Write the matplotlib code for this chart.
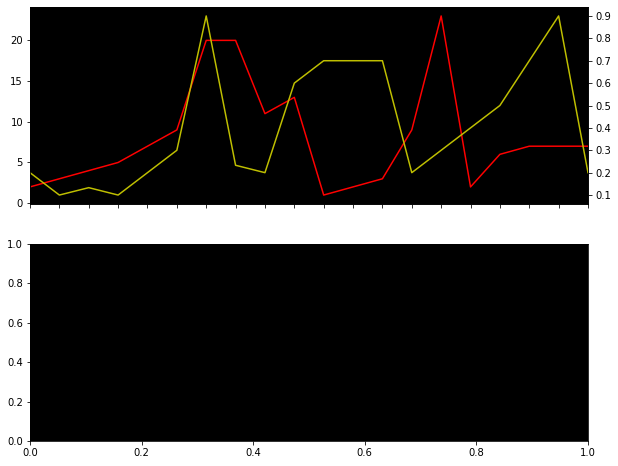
import matplotlib
matplotlib.use("Agg")
import matplotlib.pyplot as plt

# данные
x_idx = list(range(20))
red_vals = [2, 3, 4, 5, 7, 9, 20, 20, 11, 13, 1, 2, 3, 9, 23, 2, 6, 7, 7, 7]
yellow_vals = [0.2, 0.1, 0.133, 0.1, 0.2, 0.3, 0.9, 0.233, 0.2, 0.6,
               0.7, 0.7, 0.7, 0.2, 0.3, 0.4, 0.5, 0.7, 0.9, 0.2]
right_ticks = [0.1, 0.2, 0.3, 0.4, 0.5, 0.6, 0.7, 0.8, 0.9]
left_ticks = [0, 5, 10, 15, 20]


def main():
    fig = plt.figure(figsize=(618 / 72, 466 / 72), dpi=72)

    ax1 = fig.add_axes([30 / 618, 262 / 466, 558 / 618, 197 / 466])
    ax1.set_facecolor("black")
    ax1.plot(x_idx, red_vals, color="r", linewidth=1.5)
    ax1.set_xlim(x_idx[0], x_idx[-1])
    ax1.set_xticks(x_idx)
    ax1.tick_params(axis="x", labelbottom=False)
    ax1.set_yticks(left_ticks)

    ax2 = ax1.twinx()
    ax2.plot(x_idx, yellow_vals, color="y", linewidth=1.5)
    ax2.set_yticks(right_ticks)

    ax3 = fig.add_axes([30 / 618, 25 / 466, 558 / 618, 197 / 466])
    ax3.set_facecolor("black")
    ax3.set_xlim(0, 1)
    ax3.set_ylim(0, 1)

    fig.savefig("out.png", dpi=72)


if __name__ == "__main__":
    main()
